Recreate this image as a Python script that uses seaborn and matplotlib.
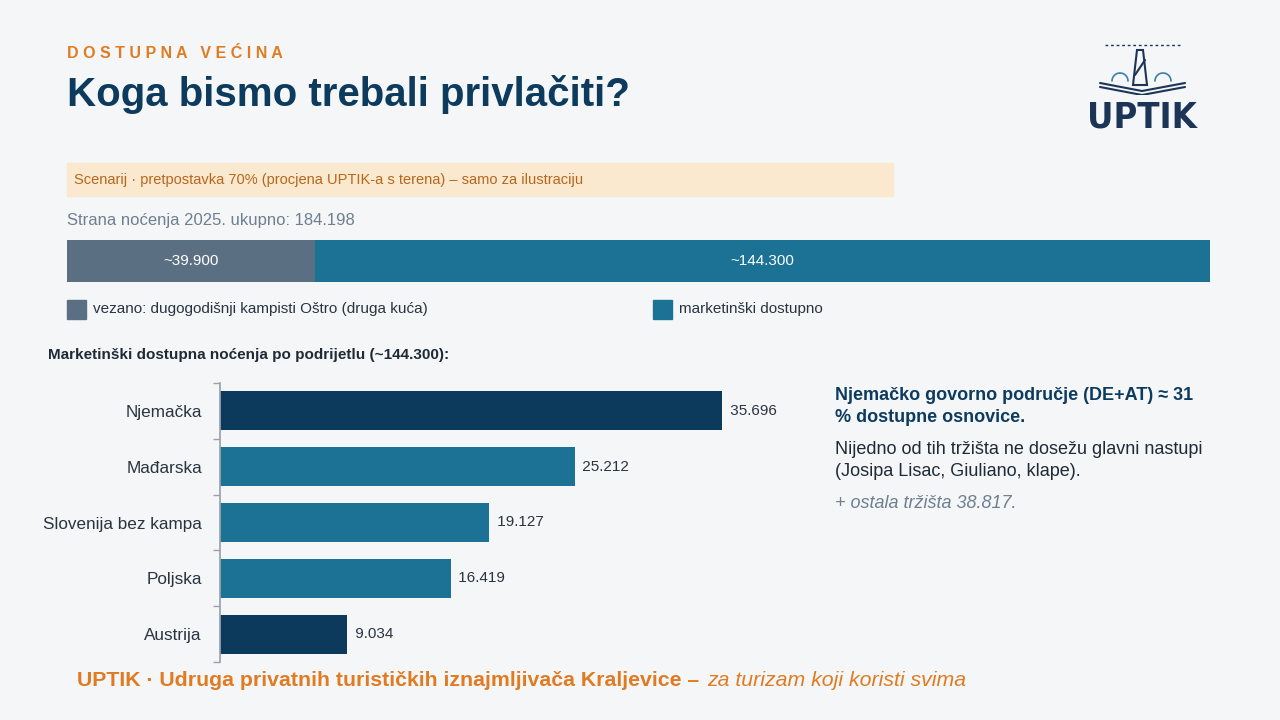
import matplotlib.pyplot as plt
import seaborn as sns
import pandas as pd
import numpy as np

# data
total_label = "Strana noćenja 2025. ukupno: 184.198"
split_names = ["vezano: dugogodišnji kampisti Oštro (druga kuća)", "marketinški dostupno"]
split_values = [39900, 144300]
split_labels = ["~39.900", "~144.300"]

markets = ["Njemačka", "Mađarska", "Slovenija bez kampa", "Poljska", "Austrija"]
market_values = [35696, 25212, 19127, 16419, 9034]
market_labels = ["35.696", "25.212", "19.127", "16.419", "9.034"]

BG = "#f5f6f8"
NAVY = "#0b3a5c"
TEAL = "#1c7294"
GREY = "#5b6f82"
ORANGE = "#e07b22"

sns.set_theme(style="white")
plt.rcParams['font.family'] = ['Liberation Sans', 'DejaVu Sans']

fig = plt.figure(figsize=(12.8, 7.2), dpi=100, facecolor=BG)

def px(x, y):
    return x / 1280, 1 - y / 720

fig.text(*px(67, 54), "D O S T U P N A   V E Ć I N A", color=ORANGE, fontsize=11.5, fontweight="bold", va="center")
fig.text(*px(67, 94), "Koga bismo trebali privlačiti?", color="#0d3b5e", fontsize=29, fontweight="bold", va="center")

# scenario banner
fig.patches.append(plt.Rectangle(px(67, 196), (893 - 67) / 1280, 33 / 720, transform=fig.transFigure,
                                 color="#fae8cf", zorder=0))
fig.text(*px(74, 180), "Scenarij · pretpostavka 70% (procjena UPTIK-a s terena) – samo za ilustraciju",
         color="#b8661c", fontsize=10.5, va="center")
fig.text(*px(67, 221), total_label, color="#6d7f91", fontsize=12, va="center")

# stacked bar
ax1 = fig.add_axes([67 / 1280, 1 - 282 / 720, (1210 - 67) / 1280, 42 / 720])
ax1.set_facecolor(BG)
left = 0
for v, lab, c in zip(split_values, split_labels, [GREY, TEAL]):
    ax1.barh(0, v, left=left, color=c, height=1, linewidth=0)
    ax1.text(left + v / 2, 0, lab, color="white", ha="center", va="center", fontsize=11)
    left += v
ax1.set_xlim(0, sum(split_values))
ax1.set_ylim(-0.5, 0.5)
ax1.axis("off")

for (x, name, c) in [(67, split_names[0], GREY), (653, split_names[1], TEAL)]:
    fig.patches.append(plt.Rectangle(px(x, 319), 19 / 1280, 19 / 720, transform=fig.transFigure, color=c))
    fig.text(*px(x + 26, 309), name, color="#2a3440", fontsize=11, va="center")

fig.text(*px(48, 355), "Marketinški dostupna noćenja po podrijetlu (~144.300):", color="#1e2a36",
         fontsize=11, fontweight="bold", va="center")

# market bars
df = pd.DataFrame({"market": markets, "value": market_values})
ax = fig.add_axes([220 / 1280, 1 - 662 / 720, 560 / 1280, 279 / 720])
ax.set_facecolor(BG)
colors = [NAVY, TEAL, TEAL, TEAL, NAVY]
sns.barplot(data=df, x="value", y="market", hue="market", palette=colors, legend=False,
            width=0.7, ax=ax, saturation=1, linewidth=0)
ax.set_xlim(0, 35696 * 560 / 502)
ax.set_ylim(4.5, -0.5)
for i, (v, lab) in enumerate(zip(market_values, market_labels)):
    ax.text(v + 250, i, " " + lab, va="center", fontsize=11, color="#2a3440")
ax.set_xlabel("")
ax.set_ylabel("")
ax.set_xticks([])
for s in ["top", "right", "bottom"]:
    ax.spines[s].set_visible(False)
ax.spines["left"].set_color("#9aa3ad")
ax.tick_params(axis="y", length=0, labelsize=12.3, labelcolor="#2a3440", pad=13)
ax.set_yticks(np.arange(-0.5, 5, 1), minor=True)
ax.tick_params(axis="y", which="minor", length=5, color="#9aa3ad", direction="out", left=True)

# side notes
fig.text(*px(835, 395), "Njemačko govorno područje (DE+AT) ≈ 31", color="#0d3b5e", fontsize=13,
         fontweight="bold", va="center")
fig.text(*px(835, 417), "% dostupne osnovice.", color="#0d3b5e", fontsize=13, fontweight="bold", va="center")
fig.text(*px(835, 450), "Nijedno od tih tržišta ne dosežu glavni nastupi", color="#1e2a36", fontsize=13, va="center")
fig.text(*px(835, 472), "(Josipa Lisac, Giuliano, klape).", color="#1e2a36", fontsize=13, va="center")
fig.text(*px(835, 503), "+ ostala tržišta 38.817.", color="#6d7f91", fontsize=13, style="italic", va="center")

# footer
fig.text(*px(77, 680), "UPTIK · Udruga privatnih turističkih iznajmljivača Kraljevice –", color=ORANGE,
         fontsize=15.3, fontweight="bold", va="center")
fig.text(*px(707, 680), "za turizam koji koristi svima", color=ORANGE, fontsize=15.3,
         style="italic", va="center")

# logo
fig.text(*px(1142, 117), "UPTIK", color="#1c3557", fontsize=26, fontweight="bold", ha="center", va="center",
         family="DejaVu Sans", fontstretch="condensed")
lx = fig.add_axes([1095 / 1280, 1 - 95 / 720, 95 / 1280, 57 / 720])
lx.set_xlim(0, 95)
lx.set_ylim(0, 57)
lx.axis("off")
lx.plot([10, 85], [50, 50], color="#1c3557", lw=1, ls=(0, (2, 2)))
lx.fill([38, 52, 48, 42], [10, 10, 45, 45], color="none", edgecolor="#1c3557", lw=1.5)
lx.plot([40, 50], [20, 35], color="#1c3557", lw=1.5)
lx.plot([5, 47, 90], [12, 4, 12], color="#1c3557", lw=1.5)
lx.plot([5, 47, 90], [8, 0, 8], color="#1c3557", lw=1.5)
for cx in [25, 68]:
    lx.plot(cx + 8 * np.cos(np.linspace(0, np.pi, 20)), 14 + 8 * np.sin(np.linspace(0, np.pi, 20)),
            color="#3b7fa8", lw=1.2)

fig.savefig("out.png", dpi=100, facecolor=BG)
